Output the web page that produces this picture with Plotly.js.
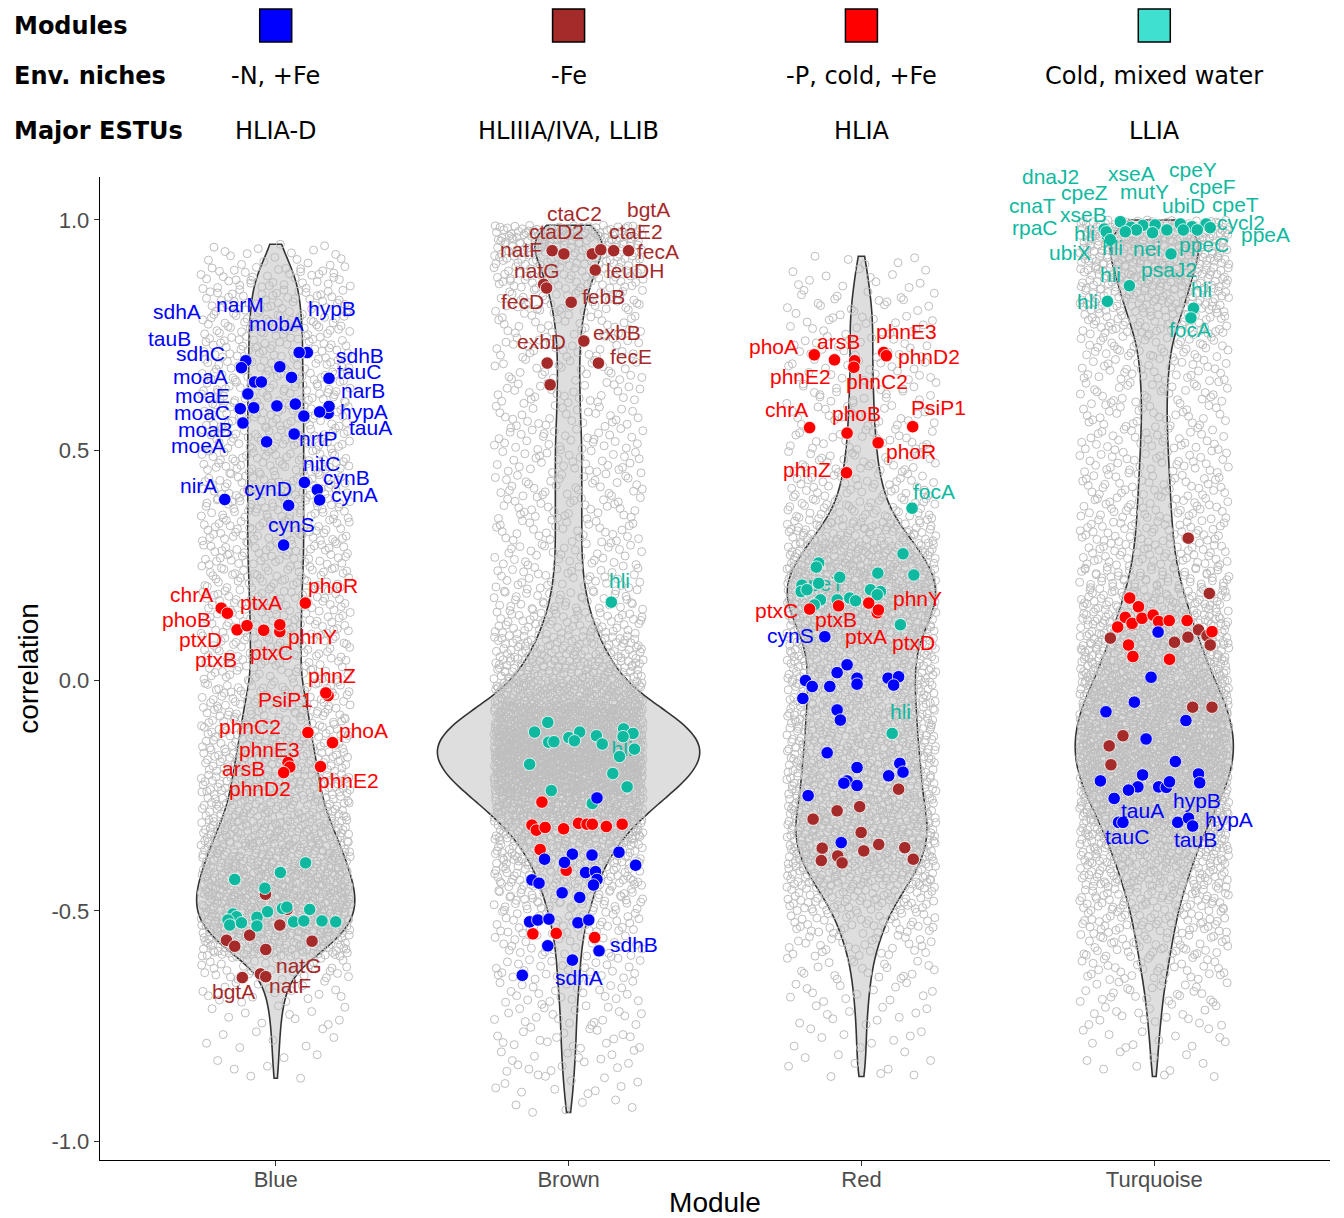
<!DOCTYPE html>
<html><head><meta charset="utf-8">
<script src="https://cdn.plot.ly/plotly-3.0.1.min.js"></script>
<style>html,body{margin:0;padding:0;background:#fff}#chart{width:1344px;height:1218px}</style>
</head><body><div id="chart"></div>
<script>
// ---------------- DATA ----------------
const modules = ['Blue','Brown','Red','Turquoise'];
const moduleColors = ['#0000FF','#A52A2A','#FF0000','#40E0D0'];
const envNiches = ['-N, +Fe','-Fe','-P, cold, +Fe','Cold, mixed water'];
const majorESTUs = ['HLIA-D','HLIIIA/IVA, LLIB','HLIA','LLIA'];
const headerRows = ['Modules','Env. niches','Major ESTUs'];
const yTickVals = [-1,-0.5,0,0.5,1];
const yTickText = ['-1.0','-0.5','0.0','0.5','1.0'];

// gene counts per correlation bin (bins of 0.05 from -1.0 to 1.0), read from point density / violin width
const binStart = -1.0, binWidth = 0.05;
const countsBlue = [0,0,2,5,8,11,18,38,108,149,155,144,129,110,92,84,77,69,63,53,47,48,48,50,51,53,53,53,53,53,53,53,53,51,51,50,47,39,18,0];
const countsBrown = [0,6,12,16,18,20,24,28,32,42,58,76,104,146,206,278,328,326,254,162,114,84,60,44,36,32,32,32,32,32,32,28,28,26,28,32,42,58,80,90];
const countsRed = [0,0,3,7,9,11,14,20,30,45,66,98,117,125,117,111,108,104,102,99,98,104,123,141,138,113,78,50,38,30,26,24,22,21,21,21,18,12,5,0];
const countsTurquoise = [0,0,2,8,12,18,24,34,44,54,68,86,106,130,156,184,200,202,190,166,140,118,98,80,62,52,46,42,40,36,34,32,32,36,42,60,80,96,112,130];
const corrMin = [-0.868,-0.943,-0.863,-0.863];
const corrMax = [0.952,0.989,0.928,1.0];

// highlighted genes, by colour group, per module [Blue, Brown, Red, Turquoise]
const blueCorr = [
 [0.694,0.681,0.712,0.712,0.679,0.648,0.656,0.648,0.622,0.590,0.559,0.518,0.535,0.430,0.414,0.392,0.393,0.380,0.294,0.658,0.580,0.595,0.583,0.596,0.600,0.574,0.592],
 [-0.255,-0.388,-0.377,-0.379,-0.395,-0.373,-0.401,-0.417,-0.415,-0.432,-0.444,-0.433,-0.440,-0.461,-0.471,-0.524,-0.520,-0.518,-0.526,-0.520,-0.576,-0.587,-0.607,-0.640],
 [0.095,0.034,0.017,0.000,-0.013,-0.039,-0.013,0.005,-0.008,0.005,0.008,-0.010,-0.064,-0.086,-0.157,-0.189,-0.218,-0.223,-0.228,-0.180,-0.207,-0.199,-0.250,-0.352],
 [0.105,0.007,-0.047,-0.068,-0.087,-0.127,-0.176,-0.218,-0.205,-0.231,-0.238,-0.256,-0.231,-0.232,-0.220,-0.203,-0.222,-0.308,-0.308,-0.308,-0.299,-0.316]
];
const blueGene = [
 ['sdhA','narM','hypB','mobA','tauB','sdhC','sdhB','moaA','moaE','moaC','moaB','moeA','nrtP','nitC','cynB','cynA','nirA','cynD','cynS','tauC','narB','hypA','tauA','','','',''],
 ['','','','','','','','','','','','','','','','','','','','','','sdhB','sdhA',''],
 ['cynS','','','','','','','','','','','','','','','','','','','','','','',''],
 ['','','','','','','','','','','','','','hypB','','','','tauC','tauA','tauB','hypA','']
];
const redCorr = [
 [0.157,0.146,0.110,0.119,0.109,0.106,0.121,0.168,-0.033,-0.027,-0.113,-0.135,-0.178,-0.188,-0.200,-0.187],
 [-0.264,-0.314,-0.325,-0.319,-0.322,-0.310,-0.312,-0.312,-0.317,-0.312,-0.367,-0.412,-0.550,-0.549,-0.558],
 [0.707,0.696,0.694,0.680,0.712,0.705,0.549,0.537,0.551,0.516,0.451,0.155,0.162,0.168,0.147,0.153],
 [0.179,0.160,0.137,0.116,0.124,0.135,0.142,0.128,0.130,0.130,0.106,0.077,0.052,0.046]
];
const redGene = [
 ['chrA','phoB','ptxD','ptxA','ptxB','ptxC','phnY','phoR','phnZ','PsiP1','phnC2','phoA','phnE3','phnD2','arsB','phnE2'],
 ['','','','','','','','','','','','','','',''],
 ['phoA','arsB','phnE2','phnC2','phnE3','phnD2','chrA','phoB','PsiP1','phoR','phnZ','ptxC','ptxB','ptxA','phnY','ptxD'],
 ['','','','','','','','','','','','','','']
];
const brownCorr = [
 [-0.464,-0.497,-0.531,-0.564,-0.577,-0.553,-0.584,-0.566,-0.645,-0.637,-0.643],
 [0.933,0.926,0.926,0.935,0.933,0.933,0.891,0.860,0.852,0.821,0.737,0.689,0.689,0.642],
 [-0.236,-0.301,-0.283,-0.274,-0.330,-0.364,-0.391,-0.381,-0.396,-0.370,-0.356,-0.363,-0.388],
 [0.309,0.189,0.092,0.121,0.083,0.094,0.110,0.097,0.077,-0.058,-0.058,-0.120,-0.142,-0.183]
];
const brownGene = [
 ['','','','','','','','','bgtA','natG','natF'],
 ['natF','ctaD2','ctaC2','ctaE2','bgtA','fecA','leuDH','natG','fecD','febB','exbB','exbD','fecE',''],
 ['','','','','','','','','','','','',''],
 ['','','','','','','','','','','','','','']
];
const turquoiseCorr = [
 [-0.396,-0.417,-0.432,-0.451,-0.502,-0.495,-0.492,-0.497,-0.507,-0.513,-0.520,-0.531,-0.526,-0.514,-0.533,-0.524,-0.522,-0.522,-0.524],
 [0.170,-0.091,-0.112,-0.134,-0.133,-0.124,-0.112,-0.131,-0.120,-0.138,-0.105,-0.115,-0.122,-0.149,-0.165,-0.182,-0.202,-0.239,-0.231,-0.267],
 [0.374,-0.115,0.211,0.255,0.246,0.224,0.233,0.275,0.229,0.207,0.193,0.197,0.175,0.164,0.175,0.179,0.173,0.197,0.193,0.186,0.121],
 [0.996,0.988,0.991,0.984,0.989,0.985,0.980,0.978,0.978,0.991,0.965,0.978,0.974,0.983,0.957,0.974,0.972,0.978,0.926,0.857,0.808,0.823,0.787]
];
const turquoiseGene = [
 ['','','','','','','','','','','','','','','','','','',''],
 ['hli','','','','','','','','','','','','hli','','','','','','',''],
 ['focA','hli','cpeT','','','','','','','','','','','','','','','','','',''],
 ['dnaJ2','xseA','cpeY','cpeZ','mutY','cpeF','cnaT','xseB','ubiD','cpeT','rpaC','cycl2','hli','ppeA','ubiX','hli','nei','ppeC','psaJ2','hli','hli','hli','focA']
];

// ---------------- POSITIONS (jitter, label offsets in px) ----------------
const blueJitter = [
 [-0.102,0.014,0.108,0.080,-0.117,-0.072,0.182,-0.049,-0.095,-0.121,-0.112,-0.031,0.063,0.098,0.142,0.150,-0.174,0.044,0.027,0.054,0.179,0.182,0.150,0.004,0.067,0.096,-0.075],
 [0.097,-0.082,0.013,0.080,-0.014,0.172,0.229,0.058,0.092,0.097,0.085,-0.125,-0.101,-0.022,0.038,-0.133,-0.105,-0.067,0.032,0.069,-0.071,0.104,0.013,-0.158],
 [-0.125,-0.049,-0.083,-0.191,-0.168,-0.200,-0.108,-0.015,-0.015,0.091,0.127,0.110,-0.083,-0.072,-0.117,-0.015,-0.049,-0.060,-0.015,0.131,0.093,0.142,-0.182,-0.069],
 [0.013,-0.011,-0.068,-0.165,0.108,-0.028,0.072,-0.184,-0.040,-0.056,-0.088,-0.137,0.015,0.041,0.052,0.151,0.155,-0.122,-0.107,0.080,0.117,0.131]
];
const blueLabelDX = [
 [-69,-40,25,-23,-72,-54,31,-61,-45,-38,-37,-68,24,17,29,35,-26,-21,8,67,35,35,51,0,0,0,0],
 [0,0,0,0,0,0,0,0,0,0,0,0,0,0,0,0,0,0,0,0,0,35,7,0],
 [-34,0,0,0,0,0,0,0,0,0,0,0,0,0,0,0,0,0,0,0,0,0,0,0],
 [0,0,0,0,0,0,0,0,0,0,0,0,0,31,0,0,0,8,20,18,40,0]
];
const blueLabelDY = [
 [-49,-62,-44,-29,-29,-28,-23,-5,2,4,7,4,4,-19,-12,-5,-14,-17,-21,-6,-23,5,16,0,0,0,0],
 [0,0,0,0,0,0,0,0,0,0,0,0,0,0,0,0,0,0,0,0,0,-6,17,0],
 [-1,0,0,0,0,0,0,0,0,0,0,0,0,0,0,0,0,0,0,0,0,0,0,0],
 [0,0,0,0,0,0,0,0,0,0,0,0,0,13,0,0,0,14,-12,17,1,0]
];
const redJitter = [
 [-0.186,-0.165,-0.132,-0.098,-0.041,0.014,0.014,0.101,0.179,0.171,0.110,0.194,0.042,0.048,0.027,0.153],
 [-0.091,-0.125,-0.110,-0.080,-0.017,0.034,0.063,0.081,0.129,0.183,-0.097,-0.008,-0.122,-0.042,0.089],
 [-0.161,-0.092,-0.023,-0.026,0.076,0.085,-0.177,-0.049,0.175,0.057,-0.051,-0.177,-0.078,0.025,0.054,0.058],
 [-0.084,-0.054,-0.099,-0.125,-0.076,-0.042,-0.004,0.015,0.051,0.112,0.197,-0.088,-0.073,0.052]
];
const redLabelDX = [
 [-30,-41,-37,14,-48,-8,33,28,4,-40,-58,31,-19,-30,-40,28],
 [0,0,0,0,0,0,0,0,0,0,0,0,0,0,0],
 [-41,4,-54,23,23,43,-23,9,26,33,-39,-33,-3,-3,40,35],
 [0,0,0,0,0,0,0,0,0,0,0,0,0,0]
];
const redLabelDY = [
 [-14,6,10,-23,29,21,12,-18,-20,7,-6,-12,-13,21,-4,14],
 [0,0,0,0,0,0,0,0,0,0,0,0,0,0,0],
 [-8,-18,16,14,-21,1,-18,-20,-19,9,-3,1,14,33,-14,32],
 [0,0,0,0,0,0,0,0,0,0,0,0,0,0]
];
const brownJitter = [
 [-0.035,0.039,0.014,-0.168,-0.140,-0.089,-0.034,0.124,-0.114,-0.052,-0.034],
 [-0.056,-0.016,0.081,0.110,0.154,0.205,0.091,-0.085,-0.075,0.009,0.052,-0.073,0.102,-0.063],
 [0.127,-0.165,-0.083,-0.006,-0.001,-0.134,-0.137,-0.081,-0.066,0.008,0.059,0.148,0.177],
 [0.116,0.188,-0.150,-0.076,0.069,0.115,0.151,0.180,0.191,0.131,0.197,-0.107,-0.154,-0.148]
];
const brownLabelDX = [
 [0,0,0,0,0,0,0,0,-9,39,24],
 [-31,-7,-18,35,35,29,40,-7,-24,32,33,-6,33,0],
 [0,0,0,0,0,0,0,0,0,0,0,0,0],
 [0,0,0,0,0,0,0,0,0,0,0,0,0,0]
];
const brownLabelDY = [
 [0,0,0,0,0,0,0,0,14,-8,9],
 [-1,-22,-40,-18,-41,1,0,-14,13,-6,-8,-22,-7,0],
 [0,0,0,0,0,0,0,0,0,0,0,0,0],
 [0,0,0,0,0,0,0,0,0,0,0,0,0,0]
];
const turquoiseJitter = [
 [0.102,0.016,-0.140,-0.037,-0.028,0.023,0.038,0.116,-0.146,-0.134,-0.163,-0.157,-0.117,-0.064,-0.064,0.061,0.096,0.158,0.205],
 [0.146,-0.071,-0.116,-0.068,-0.050,0.001,0.038,0.020,0.095,0.115,0.188,0.220,0.186,0.225,0.174,-0.133,0.151,-0.059,0.200,0.081],
 [0.173,0.105,-0.146,-0.146,-0.154,-0.074,0.056,0.142,0.179,-0.203,-0.206,-0.186,-0.140,-0.161,-0.083,-0.040,-0.020,0.031,0.065,0.054,0.133],
 [-0.116,-0.039,0.089,-0.080,0.003,0.129,-0.171,-0.061,0.099,0.177,-0.160,0.147,-0.164,0.191,-0.150,-0.099,-0.006,0.043,0.057,-0.085,0.134,-0.160,0.125]
];
const turquoiseLabelDX = [
 [0,0,0,0,0,0,0,0,0,0,0,0,0,0,0,0,0,0,0],
 [8,0,0,0,0,0,0,0,0,0,0,0,-1,0,0,0,0,0,0,0],
 [22,8,2,0,0,0,0,0,0,0,0,0,0,0,0,0,0,0,0,0,0],
 [-70,-11,13,-46,-11,20,-72,-53,0,29,-72,44,-22,55,-40,-13,-6,37,-2,-19,8,-20,-1]
];
const turquoiseLabelDY = [
 [0,0,0,0,0,0,0,0,0,0,0,0,0,0,0,0,0,0,0],
 [-22,0,0,0,0,0,0,0,0,0,0,0,14,0,0,0,0,0,0,0],
 [-17,-22,2,0,0,0,0,0,0,0,0,0,0,0,0,0,0,0,0,0,0],
 [-45,-52,-54,-35,-33,-40,-24,-15,-24,-19,-8,-7,2,7,13,16,16,15,16,-11,-19,0,12]
];
// labels drawn beneath the points (partly hidden in the figure): [module, index]
const turquoiseLabelsUnder = [[1,12],[2,2]];

// ---------------- STYLE / LAYOUT ----------------
const W = 1344, H = 1218;
const margin = {l:100, r:14, t:177, b:58};
const xRange = [-0.6, 3.6], yRange = [-1.041, 1.093];
const plotW = W - margin.l - margin.r, plotH = H - margin.t - margin.b;
const pxX = plotW / (xRange[1]-xRange[0]), pxY = plotH / (yRange[1]-yRange[0]);
const violinWidth = [0.54, 0.895, 0.506, 0.54];
const jitterHalf = 0.255;
const groupColors = {brown:'#A52A2A', turquoise:'#0FB9A0', red:'#FF0000', blue:'#0000FF'};
const labelFont = 'Liberation Sans, Arial, Helvetica, sans-serif';
const headFont = 'DejaVu Sans, Verdana, sans-serif';

function radicalInverse(n, base){ let r=0, f=1/base; while(n>0){ r += (n%base)*f; n=Math.floor(n/base); f/=base; } return r; }

const allCounts = [countsBlue, countsBrown, countsRed, countsTurquoise];
const grayY = [], grayX = [];
allCounts.forEach((counts, m) => {
  const ys = [], xs = []; let g = 0;
  counts.forEach((n, i) => {
    const a = Math.max(binStart + i*binWidth, corrMin[m]);
    const b = Math.min(binStart + (i+1)*binWidth, corrMax[m]);
    for (let k=0; k<n; k++) {
      ys.push(a + (b-a)*radicalInverse(k+1, 2));
      xs.push(m + (radicalInverse(g+1+m*11, 3) - 0.5)*2*jitterHalf);
      g++;
    }
  });
  grayY.push(ys); grayX.push(xs);
});

const traces = [];
modules.forEach((name, m) => {
  traces.push({type:'violin', x0:m, y:grayY[m], name:name, points:false,
    box:{visible:false}, meanline:{visible:false}, spanmode:'hard', bandwidth:0.035,
    scalemode:'width', scalegroup:'f'+m, width:violinWidth[m],
    fillcolor:'#DEDEDE', line:{color:'rgba(0,0,0,0)', width:0}, hoverinfo:'skip', showlegend:false});
});
modules.forEach((name, m) => {
  traces.push({type:'scatter', mode:'markers', x:grayX[m], y:grayY[m], hoverinfo:'skip', showlegend:false,
    marker:{symbol:'circle-open', size:8, color:'#BEBEBE', line:{width:1}}});
});
modules.forEach((name, m) => {
  traces.push({type:'violin', x0:m, y:grayY[m], name:name, points:false,
    box:{visible:false}, meanline:{visible:false}, spanmode:'hard', bandwidth:0.035,
    scalemode:'width', scalegroup:'o'+m, width:violinWidth[m],
    fillcolor:'rgba(0,0,0,0)', line:{color:'#333333', width:1.6}, hoverinfo:'skip', showlegend:false});
});

const groups = [
  {key:'brown', corr:brownCorr, gene:brownGene, jit:brownJitter, dx:brownLabelDX, dy:brownLabelDY},
  {key:'turquoise', corr:turquoiseCorr, gene:turquoiseGene, jit:turquoiseJitter, dx:turquoiseLabelDX, dy:turquoiseLabelDY},
  {key:'red', corr:redCorr, gene:redGene, jit:redJitter, dx:redLabelDX, dy:redLabelDY},
  {key:'blue', corr:blueCorr, gene:blueGene, jit:blueJitter, dx:blueLabelDX, dy:blueLabelDY}
];
const isUnder = (key, m, i) => key==='turquoise' && turquoiseLabelsUnder.some(p => p[0]===m && p[1]===i);
const annotations = [];

groups.forEach(g => {
  if (g.key==='turquoise') {
    const x=[], y=[], t=[];
    g.corr.forEach((arr, m) => arr.forEach((c, i) => {
      if (!g.gene[m][i] || !isUnder(g.key, m, i)) return;
      x.push(m + g.jit[m][i] + g.dx[m][i]/pxX); y.push(c - g.dy[m][i]/pxY); t.push(g.gene[m][i]);
    }));
    traces.push({type:'scatter', mode:'text', x, y, text:t, textposition:'middle center',
      textfont:{family:labelFont, size:21, color:groupColors[g.key]}, hoverinfo:'skip', showlegend:false});
  }
  const x=[], y=[];
  g.corr.forEach((arr, m) => arr.forEach((c, i) => { x.push(m + g.jit[m][i]); y.push(c); }));
  traces.push({type:'scatter', mode:'markers', x, y, hoverinfo:'skip', showlegend:false,
    marker:{symbol:'circle', size:12.5, color:groupColors[g.key], line:{color:'#FFFFFF', width:0.8}}});
});
// gene labels on top
groups.forEach(g => {
  g.corr.forEach((arr, m) => arr.forEach((c, i) => {
    const name = g.gene[m][i];
    if (!name || isUnder(g.key, m, i)) return;
    annotations.push({xref:'x', yref:'y', x:m + g.jit[m][i], y:c, xshift:g.dx[m][i], yshift:-g.dy[m][i],
      text:name, showarrow:false, xanchor:'center', yanchor:'middle',
      font:{family:labelFont, size:21, color:groupColors[g.key]}});
  }));
});

// header (Modules / Env. niches / Major ESTUs)
const rowY = [26, 76, 131].map(py => (H - margin.b - py)/plotH);
headerRows.forEach((r, k) => annotations.push({xref:'paper', yref:'paper', x:(12-margin.l)/plotW, y:rowY[k],
  xanchor:'left', yanchor:'middle', showarrow:false, text:'<b>'+r+'</b>', font:{family:headFont, size:24, color:'#000'}}));
modules.forEach((m, i) => {
  annotations.push({xref:'x', yref:'paper', x:i, y:rowY[1], xanchor:'center', yanchor:'middle', showarrow:false,
    text:envNiches[i], font:{family:headFont, size:24, color:'#000'}});
  annotations.push({xref:'x', yref:'paper', x:i, y:rowY[2], xanchor:'center', yanchor:'middle', showarrow:false,
    text:majorESTUs[i], font:{family:headFont, size:24, color:'#000'}});
});
const sqHalf = 16/pxX;
const shapes = modules.map((m, i) => ({type:'rect', xref:'x', yref:'paper', x0:i-sqHalf, x1:i+sqHalf,
  y0:(H - margin.b - 42)/plotH, y1:(H - margin.b - 9)/plotH, fillcolor:moduleColors[i], line:{color:'#000', width:1.5}}));

const axisCommon = {showgrid:false, zeroline:false, showline:true, linecolor:'#000', linewidth:1.3,
  ticks:'outside', ticklen:5, tickwidth:1.1, tickcolor:'#333',
  tickfont:{family:labelFont, size:22, color:'#4D4D4D'}};
const layout = {
  width:W, height:H, margin:margin, paper_bgcolor:'#fff', plot_bgcolor:'#fff', showlegend:false, hovermode:false,
  violinmode:'overlay',
  xaxis:Object.assign({}, axisCommon, {type:'linear', range:xRange, tickvals:[0,1,2,3], ticktext:modules,
    ticklabelstandoff:-6,
    title:{text:'Module', font:{family:labelFont, size:28, color:'#000'}, standoff:16}}),
  yaxis:Object.assign({}, axisCommon, {type:'linear', range:yRange, tickvals:yTickVals, ticktext:yTickText,
    title:{text:'correlation', font:{family:labelFont, size:28, color:'#000'}, standoff:4}}),
  annotations, shapes
};
Plotly.newPlot('chart', traces, layout, {staticPlot:true, displayModeBar:false});
</script></body></html>
